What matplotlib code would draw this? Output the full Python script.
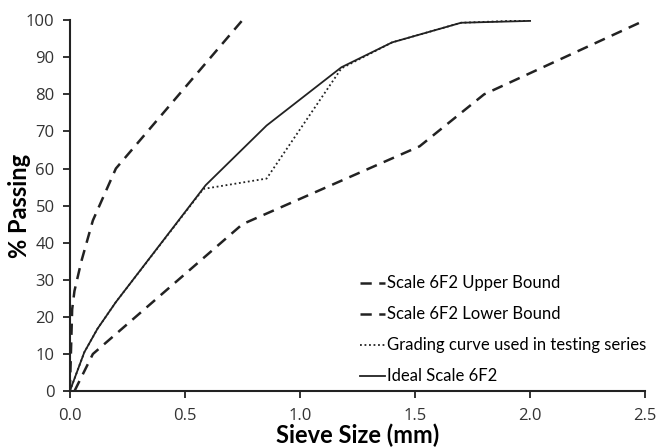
import matplotlib
matplotlib.use("Agg")
import matplotlib.pyplot as plt

plt.rcParams['font.family'] = ['Lato', 'DejaVu Sans']

# data
upper_x = [0, 0.01, 0.02, 0.05, 0.1, 0.2, 0.75]
upper_y = [0, 22, 27, 35, 46, 60, 100]

lower_x = [0.02, 0.1, 0.75, 1.52, 1.8, 2.5]
lower_y = [0, 10, 45, 66, 80, 100]

grading_x = [0, 0.063, 0.12, 0.2, 0.58, 0.855, 1.18, 1.4, 1.7, 2.0]
grading_y = [0, 10.5, 16.8, 24, 54.5, 57.3, 87, 94, 99.3, 100]

ideal_x = [0, 0.063, 0.12, 0.2, 0.59, 0.855, 1.18, 1.4, 1.7, 2.0]
ideal_y = [0, 10.5, 16.8, 24, 55.5, 71.6, 87.3, 94, 99.3, 99.8]

col = '#222222'

fig = plt.figure(figsize=(6.59, 4.48), dpi=100)
ax = fig.add_axes([0.106, 0.127, 0.873, 0.828])

ax.plot(upper_x, upper_y, color=col, lw=1.8, dashes=(4.5, 3), label='Scale 6F2 Upper Bound')
ax.plot(lower_x, lower_y, color=col, lw=1.8, dashes=(4.5, 3), label='Scale 6F2 Lower Bound')
ax.plot(grading_x, grading_y, color=col, lw=1.3, linestyle=(0, (1, 1.5)),
        label='Grading curve used in testing series')
ax.plot(ideal_x, ideal_y, color=col, lw=1.3, label='Ideal Scale 6F2')

ax.set_xlim(0, 2.5)
ax.set_ylim(0, 100)
ax.set_xticks([0, 0.5, 1.0, 1.5, 2.0, 2.5])
ax.set_xticklabels(['0.0', '0.5', '1.0', '1.5', '2.0', '2.5'])
ax.set_yticks(range(0, 101, 10))

for s in ['top', 'right']:
    ax.spines[s].set_visible(False)
for s in ['left', 'bottom']:
    ax.spines[s].set_color(col)
    ax.spines[s].set_linewidth(1.5)
ax.tick_params(direction='out', length=5, width=1.3, color=col,
               labelsize=12, labelcolor='#333333', labelfontfamily='Open Sans')
ax.tick_params(axis='x', pad=7)
ax.tick_params(axis='y', pad=6)

ax.set_xlabel('Sieve Size (mm)', fontsize=17, fontweight='bold', labelpad=0)
ax.set_ylabel('% Passing', fontsize=17, fontweight='bold')
ax.yaxis.set_label_coords(-0.068, 0.5)

ax.legend(loc='lower left', bbox_to_anchor=(0.492, 0.0), frameon=False,
          fontsize=12, handlelength=1.5, handletextpad=0.15, labelspacing=0.9,
          borderaxespad=0.0)

fig.savefig('out.png', dpi=100)
